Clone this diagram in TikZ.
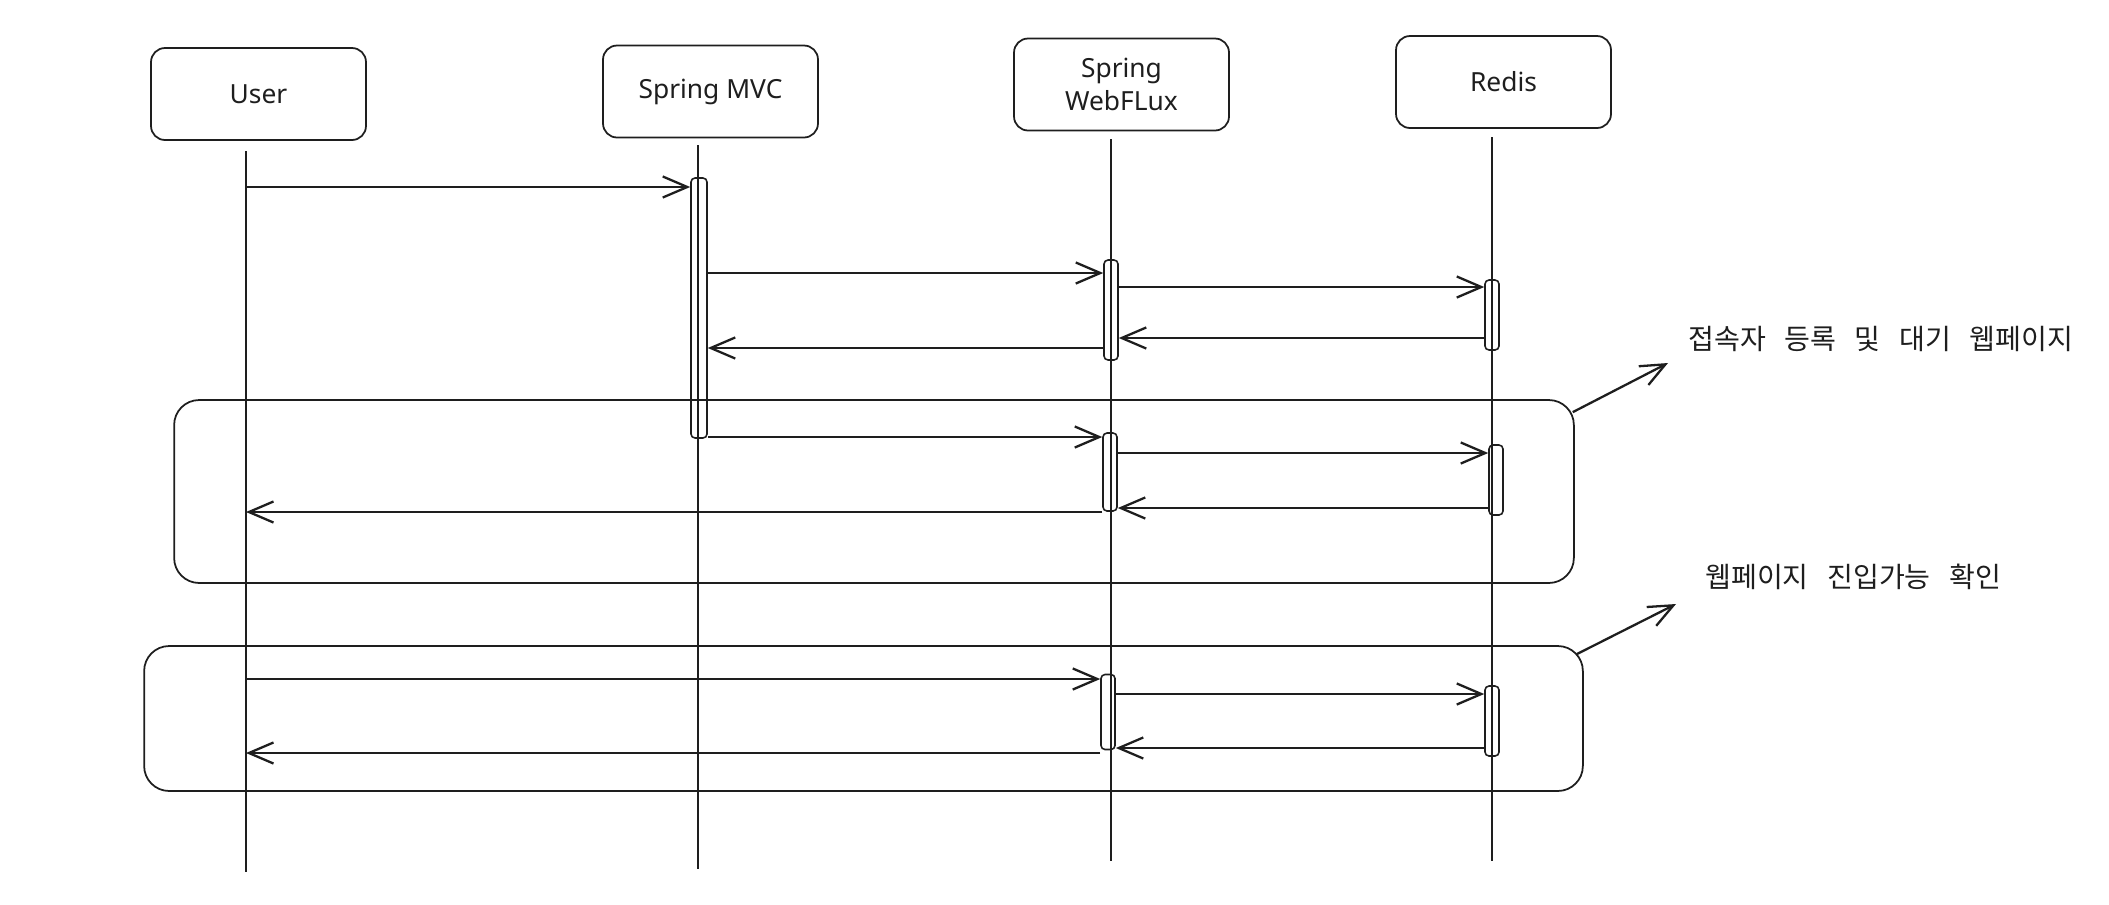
\documentclass[tikz,border=0pt]{standalone}
\usepackage{fontspec}
\setmainfont{Noto Sans}
\newfontfamily\krfont{Noto Sans CJK KR}
\newcommand{\krnote}{\krfont\fontsize{16}{18}\selectfont\spaceskip=0.66em\relax}
\usetikzlibrary{arrows.meta}
\definecolor{ink}{HTML}{1E1E1E}

\begin{document}
\begin{tikzpicture}[x=0.02cm,y=-0.02cm,color=ink]
\useasboundingbox (0,0) rectangle (2109,904);

\tikzstyle{actor} = [draw, shape=rectangle, rounded corners=0.28cm, minimum width=4.3cm, minimum height=1.84cm, line width=1pt, align=center, font=\fontsize{15}{19}\selectfont]
\tikzstyle{act} = [draw, shape=rectangle, rounded corners=0.08cm, minimum width=0.28cm, inner sep=0pt, line width=0.9pt]
\tikzstyle{life} = [line width=1pt]
\tikzstyle{msg} = [line width=1.3pt, -{Straight Barb[length=14pt,width=12pt,line width=1.3pt]}]
\tikzstyle{frame} = [draw, shape=rectangle, rounded corners=0.5cm, line width=1pt, inner sep=0pt]
\tikzstyle{note} = [anchor=west, inner sep=0pt, font=\krnote]

% Participants
\node at (258.5,94) [actor] (user) {User};
\node at (710.5,91.5) [actor] (mvc) {Spring MVC};
\node at (1121.5,84.5) [actor] (webflux) {Spring\\WebFLux};
\node at (1503.5,82) [actor] (redis) {Redis};

% Lifelines
\coordinate (usertop) at (246,151);
\coordinate (userend) at (246,872);
\coordinate (mvctop) at (698,145);
\coordinate (mvcend) at (698,869);
\coordinate (wftop) at (1111,139);
\coordinate (wfend) at (1111,861);
\coordinate (redistop) at (1492,137);
\coordinate (redisend) at (1492,861);
\draw[life] (usertop) -- (userend);
\draw[life] (mvctop) -- (mvcend);
\draw[life] (wftop) -- (wfend);
\draw[life] (redistop) -- (redisend);

% Activations
\node at (699,308) [act, minimum width=0.32cm, minimum height=5.2cm] (mvcbar) {};
\node at (1111,310) [act, minimum height=2cm] (wfbar1) {};
\node at (1492,315) [act, minimum height=1.4cm] (rbar1) {};
\node at (1110,472) [act, minimum height=1.56cm] (wfbar2) {};
\node at (1496,480) [act, minimum height=1.4cm] (rbar2) {};
\node at (1108,712) [act, minimum height=1.5cm] (wfbar3) {};
\node at (1492,721) [act, minimum height=1.4cm] (rbar3) {};

% Message levels
\coordinate (m1) at (0,187);
\coordinate (m2) at (0,273);
\coordinate (m3) at (0,287);
\coordinate (m4) at (0,338);
\coordinate (m5) at (0,348);
\coordinate (m6) at (0,437);
\coordinate (m7) at (0,453);
\coordinate (m8) at (0,508);
\coordinate (m9) at (0,512);
\coordinate (m10) at (0,679);
\coordinate (m11) at (0,694);
\coordinate (m12) at (0,748);
\coordinate (m13) at (0,753);

% Messages
\draw[msg] (usertop |- m1) -- (mvcbar.west |- m1);
\draw[msg] (mvcbar.east |- m2) -- (wfbar1.west |- m2);
\draw[msg] (wfbar1.east |- m3) -- (rbar1.west |- m3);
\draw[msg] (rbar1.west |- m4) -- (wfbar1.east |- m4);
\draw[msg] (wfbar1.west |- m5) -- (mvcbar.east |- m5);
\draw[msg] (mvcbar.east |- m6) -- (wfbar2.west |- m6);
\draw[msg] (wfbar2.east |- m7) -- (rbar2.west |- m7);
\draw[msg] (rbar2.west |- m8) -- (wfbar2.east |- m8);
\draw[msg] (wfbar2.west |- m9) -- (usertop |- m9);
\draw[msg] (usertop |- m10) -- (wfbar3.west |- m10);
\draw[msg] (wfbar3.east |- m11) -- (rbar3.west |- m11);
\draw[msg] (rbar3.west |- m12) -- (wfbar3.east |- m12);
\draw[msg] (wfbar3.west |- m13) -- (usertop |- m13);

% Groups
\node at (874,491.5) [frame, minimum width=28cm, minimum height=3.66cm] (grp1) {};
\node at (863.5,718.5) [frame, minimum width=28.78cm, minimum height=2.9cm] (grp2) {};

% Notes
\node at (1688,339) [note] (note1) {접속자 등록 및 대기 웹페이지};
\node at (1705,577) [note] (note2) {웹페이지 진입가능 확인};
\coordinate (tip1) at (1668,363);
\coordinate (tip2) at (1676,604);
\draw[msg] ([xshift=-0.04cm,yshift=-0.26cm]grp1.north east) -- (tip1);
\draw[msg] ([xshift=-0.14cm,yshift=-0.18cm]grp2.north east) -- (tip2);
\end{tikzpicture}
\end{document}
